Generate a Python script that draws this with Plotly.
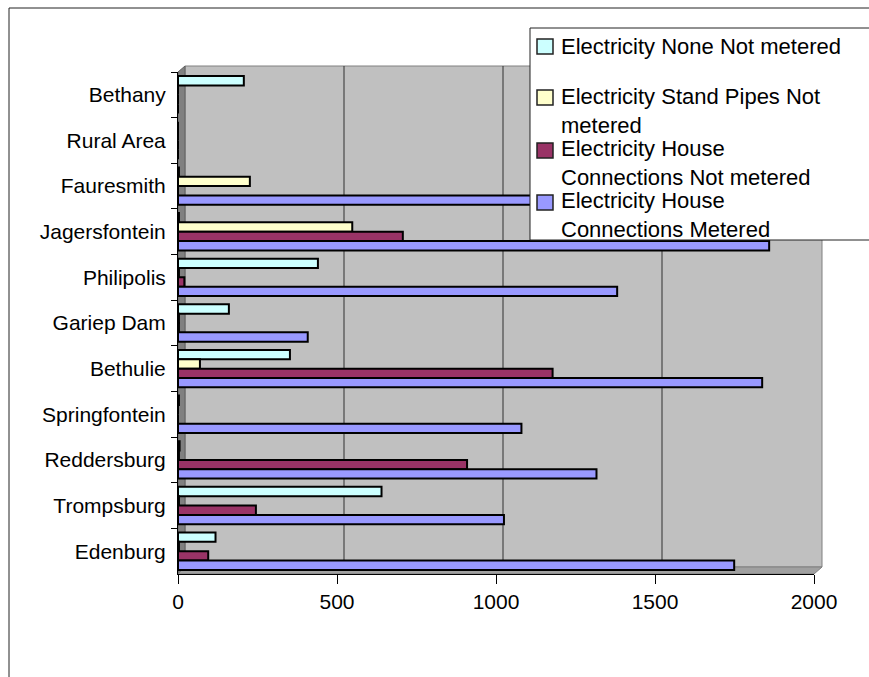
import plotly.graph_objects as go

# Towns, listed from the top of the chart to the bottom
towns = ["Bethany", "Rural Area", "Fauresmith", "Jagersfontein", "Philipolis",
         "Gariep Dam", "Bethulie", "Springfontein", "Reddersburg", "Trompsburg",
         "Edenburg"]

none_not_metered = [207, 0, 3, 3, 440, 160, 352, 3, 5, 640, 118]
stand_pipes_not_metered = [0, 0, 226, 548, 3, 3, 69, 0, 3, 3, 3]
house_not_metered = [0, 0, 0, 707, 20, 3, 1178, 0, 909, 245, 95]
house_metered = [0, 0, 1495, 1859, 1381, 408, 1837, 1080, 1316, 1025, 1749]

series_names = [
    "Electricity None Not metered",
    "Electricity Stand Pipes Not metered",
    "Electricity House Connections Not metered",
    "Electricity House Connections Metered",
]
# legend captions, wrapped the way the legend box shows them
legend_captions = [
    "Electricity None Not metered",
    "Electricity Stand Pipes Not<br>metered",
    "Electricity House<br>Connections Not metered",
    "Electricity House<br>Connections Metered",
]
series_values = [none_not_metered, stand_pipes_not_metered, house_not_metered, house_metered]
series_colors = ["#CCFFFF", "#FFFFCC", "#993366", "#9999FF"]

x_ticks = [0, 500, 1000, 1500, 2000]
grid_values = [500, 1000, 1500]

FONT = "Liberation Sans, Arial, sans-serif"
W, H = 869, 677
L, R, T, B = 178, 55, 72, 103
pw, ph = W - L - R, H - T - B


def px(x):
    return (x - L) / pw


def py(y):
    return (H - B - y) / ph


fig = go.Figure()
for name, vals, col in zip(series_names, series_values, series_colors):
    fig.add_trace(go.Bar(
        y=towns, x=vals, name=name, orientation="h", showlegend=False,
        marker=dict(color=col, line=dict(color="black", width=2)),
    ))

shapes = []
# outer chart frame
shapes.append(dict(type="rect", xref="paper", yref="paper",
                   x0=px(9), x1=px(W + 40), y0=py(H + 40), y1=py(8),
                   line=dict(color="#222222", width=1), fillcolor="white", layer="below"))
# back wall
shapes.append(dict(type="rect", xref="paper", yref="paper",
                   x0=px(185), x1=px(822), y0=py(567), y1=py(66),
                   line=dict(color="#808080", width=1), fillcolor="#C0C0C0", layer="below"))
# left side wall
shapes.append(dict(type="path", xref="paper", yref="paper",
                   path=f"M {px(178)},{py(574)} L {px(178)},{py(72)} L {px(185)},{py(66)} L {px(185)},{py(567)} Z",
                   line=dict(color="#606060", width=1), fillcolor="#808080", layer="below"))
# floor
shapes.append(dict(type="path", xref="paper", yref="paper",
                   path=f"M {px(178)},{py(574)} L {px(185)},{py(567)} L {px(822)},{py(567)} L {px(814)},{py(574)} Z",
                   line=dict(color="#808080", width=1), fillcolor="#A0A0A0", layer="below"))
# grid lines on the back wall
for g in grid_values:
    shapes.append(dict(type="line", xref="x", yref="paper", xsizemode="pixel", xanchor=g,
                       x0=7, x1=7, y0=py(567), y1=py(66),
                       line=dict(color="#303030", width=1), layer="below"))

# legend box drawn over the plot
shapes.append(dict(type="rect", xref="paper", yref="paper",
                   x0=px(530), x1=px(W + 40), y0=py(240), y1=py(28),
                   line=dict(color="#222222", width=1), fillcolor="white", layer="above"))
key_tops = [39, 90, 143, 195]
text_mids = [46, 110.5, 163, 215]
annotations = []
for top, mid, cap, col in zip(key_tops, text_mids, legend_captions, series_colors):
    shapes.append(dict(type="rect", xref="paper", yref="paper",
                       x0=px(537), x1=px(553), y0=py(top + 15), y1=py(top),
                       line=dict(color="#222222", width=1.5), fillcolor=col, layer="above"))
    annotations.append(dict(xref="paper", yref="paper", x=px(559), y=py(mid),
                            xanchor="left", yanchor="middle", align="left",
                            showarrow=False, text=cap,
                            font=dict(family=FONT, size=22, color="black")))

fig.update_layout(
    width=W, height=H,
    margin=dict(l=L, r=R, t=T, b=B, autoexpand=False),
    paper_bgcolor="white", plot_bgcolor="rgba(0,0,0,0)",
    font=dict(family=FONT, size=21, color="black"),
    barmode="group", bargap=0.18, bargroupgap=0,
    shapes=shapes, annotations=annotations,
    showlegend=False,
)
fig.update_xaxes(range=[0, 2000], tickvals=x_ticks, showgrid=False, zeroline=False,
                 showline=True, linecolor="black", linewidth=1,
                 ticks="outside", ticklen=9, tickcolor="black")
fig.update_yaxes(categoryorder="array", categoryarray=towns, autorange="reversed",
                 showgrid=False, zeroline=False, showline=True, linecolor="black",
                 linewidth=1, ticks="outside", ticklen=6, tickcolor="black",
                 tickson="boundaries", ticklabelstandoff=7)

fig.write_html("out.html")
